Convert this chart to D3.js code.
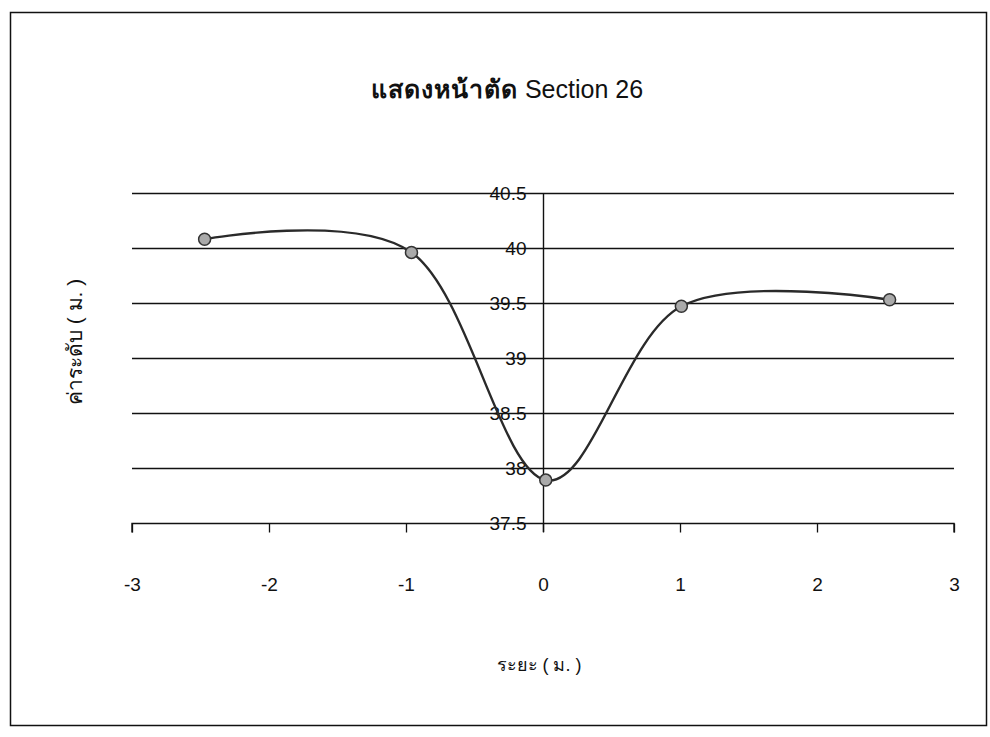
<!DOCTYPE html>
<html>
<head>
<meta charset="utf-8">
<script src="https://cdn.jsdelivr.net/npm/d3@7"></script>
<style>
  html, body { margin: 0; padding: 0; background: #fff; }
  svg { display: block; }
  text { font-family: "Liberation Sans", Arial, sans-serif; fill: #111; }
</style>
</head>
<body>
<svg id="chart" width="990" height="737"></svg>
<script>
// ---- data ----
const distances = [-2.47, -0.96, 0.02, 1.01, 2.53];
const levels    = [40.08, 39.96, 37.89, 39.47, 39.53];
const xTicks    = [-3, -2, -1, 0, 1, 2, 3];
const yTicks    = [37.5, 38, 38.5, 39, 39.5, 40, 40.5];
const titleThai = "แสดงหน้าตัด";
const titleLatin = " Section 26";
const xTitle = "ระยะ ( ม. )";
const yTitle = "ค่าระดับ ( ม. )";

const svg = d3.select("#chart");
const plot = { left: 132, right: 954, top: 193, bottom: 523 };

// outer frame
svg.append("rect")
  .attr("x", 10.5).attr("y", 12.5)
  .attr("width", 976).attr("height", 713)
  .attr("fill", "none").attr("stroke", "#111").attr("stroke-width", 1.5);

const x = d3.scaleLinear().domain([-3, 3]).range([plot.left, plot.right]);
const y = d3.scaleLinear().domain([37.5, 40.5]).range([plot.bottom, plot.top]);

// gridlines
svg.append("g")
  .selectAll("line")
  .data(yTicks.filter(d => d !== 37.5))
  .join("line")
  .attr("x1", plot.left).attr("x2", plot.right)
  .attr("y1", d => Math.round(y(d)) + 0.5).attr("y2", d => Math.round(y(d)) + 0.5)
  .attr("stroke", "#111").attr("stroke-width", 1.3);

// x axis at y = 37.5 with outward ticks
const xAxis = d3.axisBottom(x).tickValues(xTicks).tickSize(9).tickFormat(d => String(d));
const gx = svg.append("g")
  .attr("transform", `translate(0,${y(37.5) + 0.5})`)
  .call(xAxis);
gx.select(".domain").attr("stroke", "#111").attr("stroke-width", 1.4)
  .attr("d", `M${plot.left},9V0H${plot.right}V9`);
gx.selectAll(".tick line").attr("stroke", "#111").attr("stroke-width", 1.3);
gx.selectAll(".tick text")
  .attr("y", 54)
  .style("font-size", "19px")
  .style("font-family", "'Liberation Sans', Arial, sans-serif")
  .attr("fill", "#111");

// y axis at x = 0
const yAxis = d3.axisLeft(y).tickValues(yTicks).tickSize(0).tickPadding(17)
  .tickFormat(d => String(d));
const gy = svg.append("g")
  .attr("transform", `translate(${Math.round(x(0)) + 0.5},0)`)
  .call(yAxis);
gy.select(".domain").attr("stroke", "#111").attr("stroke-width", 1.4)
  .attr("d", `M0,${plot.top}V${plot.bottom + 9}`);
gy.selectAll(".tick text")
  .style("font-size", "19px")
  .style("font-family", "'Liberation Sans', Arial, sans-serif")
  .attr("fill", "#111");

// smooth line
const pts = distances.map((d, i) => [d, levels[i]]);
const line = d3.line()
  .x(d => x(d[0])).y(d => y(d[1]))
  .curve(d3.curveCardinal.tension(0));
svg.append("path")
  .datum(pts)
  .attr("d", line)
  .attr("fill", "none")
  .attr("stroke", "#2a2a2a")
  .attr("stroke-width", 2.4);

// markers
svg.append("g")
  .selectAll("circle")
  .data(pts)
  .join("circle")
  .attr("cx", d => x(d[0])).attr("cy", d => y(d[1]))
  .attr("r", 6)
  .attr("fill", "#aaa")
  .attr("stroke", "#333")
  .attr("stroke-width", 1.5);

// title
const t = svg.append("text")
  .attr("x", 507).attr("y", 98)
  .attr("text-anchor", "middle")
  .style("font-size", "25px");
t.append("tspan").style("font-weight", "bold").style("letter-spacing", "1px").text(titleThai);
t.append("tspan").text(titleLatin);

// axis titles
svg.append("text")
  .attr("x", 539).attr("y", 671)
  .attr("text-anchor", "middle")
  .style("font-size", "18px")
  .text(xTitle);

svg.append("text")
  .attr("transform", `translate(82,342) rotate(-90)`)
  .attr("text-anchor", "middle")
  .style("font-size", "21px")
  .text(yTitle);
</script>
</body>
</html>
